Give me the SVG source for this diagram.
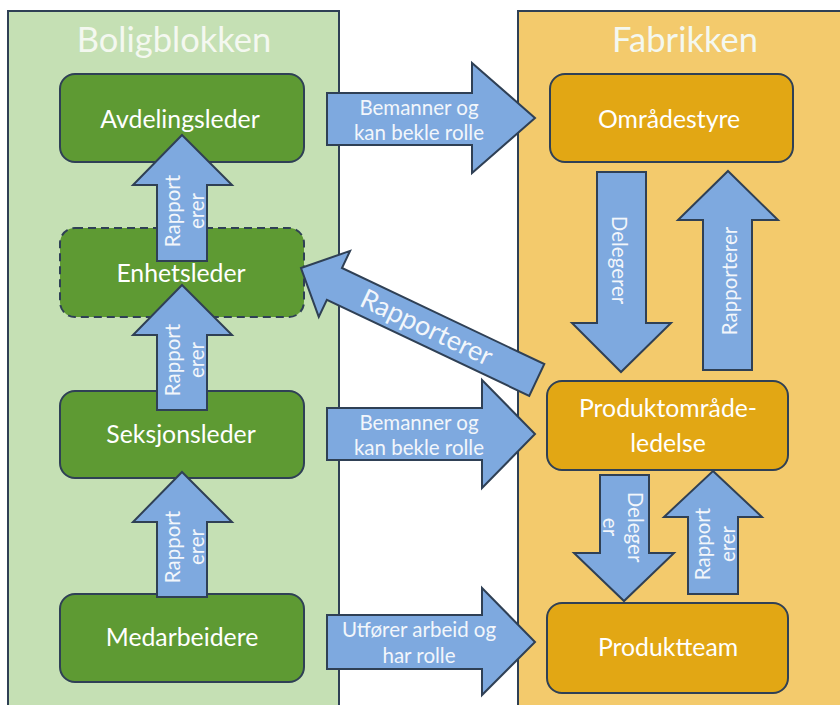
<svg xmlns="http://www.w3.org/2000/svg" width="840" height="705" viewBox="0 0 840 705">
  <style>
    .panel { stroke: #2f4055; stroke-width: 2; }
    .left { fill: #c5e0b4; }
    .right { fill: #f3ca6c; }
    .gnode { fill: #5e9a33; stroke: #2f4055; stroke-width: 2; }
    .onode { fill: #e2a714; stroke: #2f4055; stroke-width: 2; }
    .dashed { stroke-dasharray: 8 5; }
    .arrow { fill: #7ea9df; stroke: #2f4055; stroke-width: 2; stroke-linejoin: miter; }
    text { font-family: Lato, "Liberation Sans", sans-serif; fill: #ffffff; text-anchor: middle; }
    .title { font-size: 34.5px; fill: #f4f8f0; }
    .label { font-size: 24.8px; }
    .small { font-size: 20.5px; fill: #f2f6fb; }
    .diag { font-size: 27px; fill: #f2f6fb; }
  </style>

  <!-- background panels -->
  <rect x="0" y="0" width="840" height="705" fill="#ffffff"/>
  <g id="boligblokken">
    <rect class="panel left" x="8" y="11" width="331" height="710"/>
    <text class="title" x="174" y="52">Boligblokken</text>
  </g>
  <g id="fabrikken">
    <rect class="panel right" x="518" y="11" width="340" height="710"/>
    <text class="title" x="685" y="52">Fabrikken</text>
  </g>

  <!-- nodes -->
  <g id="avdelingsleder">
    <rect class="gnode" x="60" y="74" width="244" height="88" rx="15"/>
    <text class="label" x="180" y="128">Avdelingsleder</text>
  </g>
  <g id="enhetsleder">
    <rect class="gnode dashed" x="60" y="228" width="244" height="89" rx="15"/>
    <text class="label" x="181" y="282">Enhetsleder</text>
  </g>
  <g id="seksjonsleder">
    <rect class="gnode" x="60" y="391" width="244" height="87" rx="15"/>
    <text class="label" x="181" y="443">Seksjonsleder</text>
  </g>
  <g id="medarbeidere">
    <rect class="gnode" x="60" y="594" width="244" height="88" rx="15"/>
    <text class="label" x="182" y="646">Medarbeidere</text>
  </g>
  <g id="omradestyre">
    <rect class="onode" x="550" y="74" width="243" height="88" rx="15"/>
    <text class="label" x="669" y="128">Områdestyre</text>
  </g>
  <g id="produktomradeledelse">
    <rect class="onode" x="547" y="381" width="241" height="89" rx="15"/>
    <text class="label" x="668" y="417">Produktområde-</text>
    <text class="label" x="668" y="452">ledelse</text>
  </g>
  <g id="produktteam">
    <rect class="onode" x="547" y="603" width="241" height="90" rx="15"/>
    <text class="label" x="668" y="656">Produktteam</text>
  </g>

  <!-- connectors: block arrows -->
  <g id="connectors">
    <!-- reporting chain inside Boligblokken -->
    <polygon class="arrow" points="182,135 232,185 207,185 207,261 157,261 157,185 133,185"/>
    <text class="small" transform="translate(180,211) rotate(-90)">Rapport</text>
    <text class="small" transform="translate(204,211) rotate(-90)">erer</text>

    <polygon class="arrow" points="182,285 232,335 207,335 207,410 157,410 157,335 133,335"/>
    <text class="small" transform="translate(180,360) rotate(-90)">Rapport</text>
    <text class="small" transform="translate(204,360) rotate(-90)">erer</text>

    <polygon class="arrow" points="182,472 232,522 207,522 207,597 157,597 157,522 133,522"/>
    <text class="small" transform="translate(180,547) rotate(-90)">Rapport</text>
    <text class="small" transform="translate(204,547) rotate(-90)">erer</text>

    <!-- links between the two blocks -->
    <polygon class="arrow" points="327,93 472,93 472,63 535,118 472,173 472,145 327,145"/>
    <text class="small" x="419" y="115">Bemanner og</text>
    <text class="small" x="419" y="140">kan bekle rolle</text>

    <polygon class="arrow" points="327,408 482,408 482,380 535,434 482,488 482,460 327,460"/>
    <text class="small" x="419" y="430">Bemanner og</text>
    <text class="small" x="419" y="455">kan bekle rolle</text>

    <polygon class="arrow" points="327,615 482,615 482,588 535,642 482,695 482,669 327,669"/>
    <text class="small" x="419" y="637">Utfører arbeid og</text>
    <text class="small" x="419" y="663">har rolle</text>

    <!-- Produktområdeledelse reports to Enhetsleder -->
    <g transform="translate(301,268) rotate(25.4)">
      <polygon class="arrow" points="0,0 37,-36.5 37,-17.6 261,-17.6 261,17.6 37,17.6 37,36.5"/>
      <text class="diag" x="139" y="9">Rapporterer</text>
    </g>

    <!-- chain inside Fabrikken -->
    <polygon class="arrow" points="597,172 646,172 646,323 671,323 621,372 572,323 597,323"/>
    <text class="small" transform="translate(612,260) rotate(90)">Delegerer</text>

    <polygon class="arrow" points="728,171 778,220 752,220 752,370 703,370 703,220 678,220"/>
    <text class="small" transform="translate(737,281) rotate(-90)">Rapporterer</text>

    <polygon class="arrow" points="600,475 649,475 649,553 674,553 624,601 574,553 600,553"/>
    <text class="small" transform="translate(628,527) rotate(90)">Deleger</text>
    <text class="small" transform="translate(603,527) rotate(90)">er</text>

    <polygon class="arrow" points="713,471 762,517 738,517 738,594 688,594 688,517 664,517"/>
    <text class="small" transform="translate(710,544) rotate(-90)">Rapport</text>
    <text class="small" transform="translate(735,544) rotate(-90)">erer</text>
  </g>
</svg>
